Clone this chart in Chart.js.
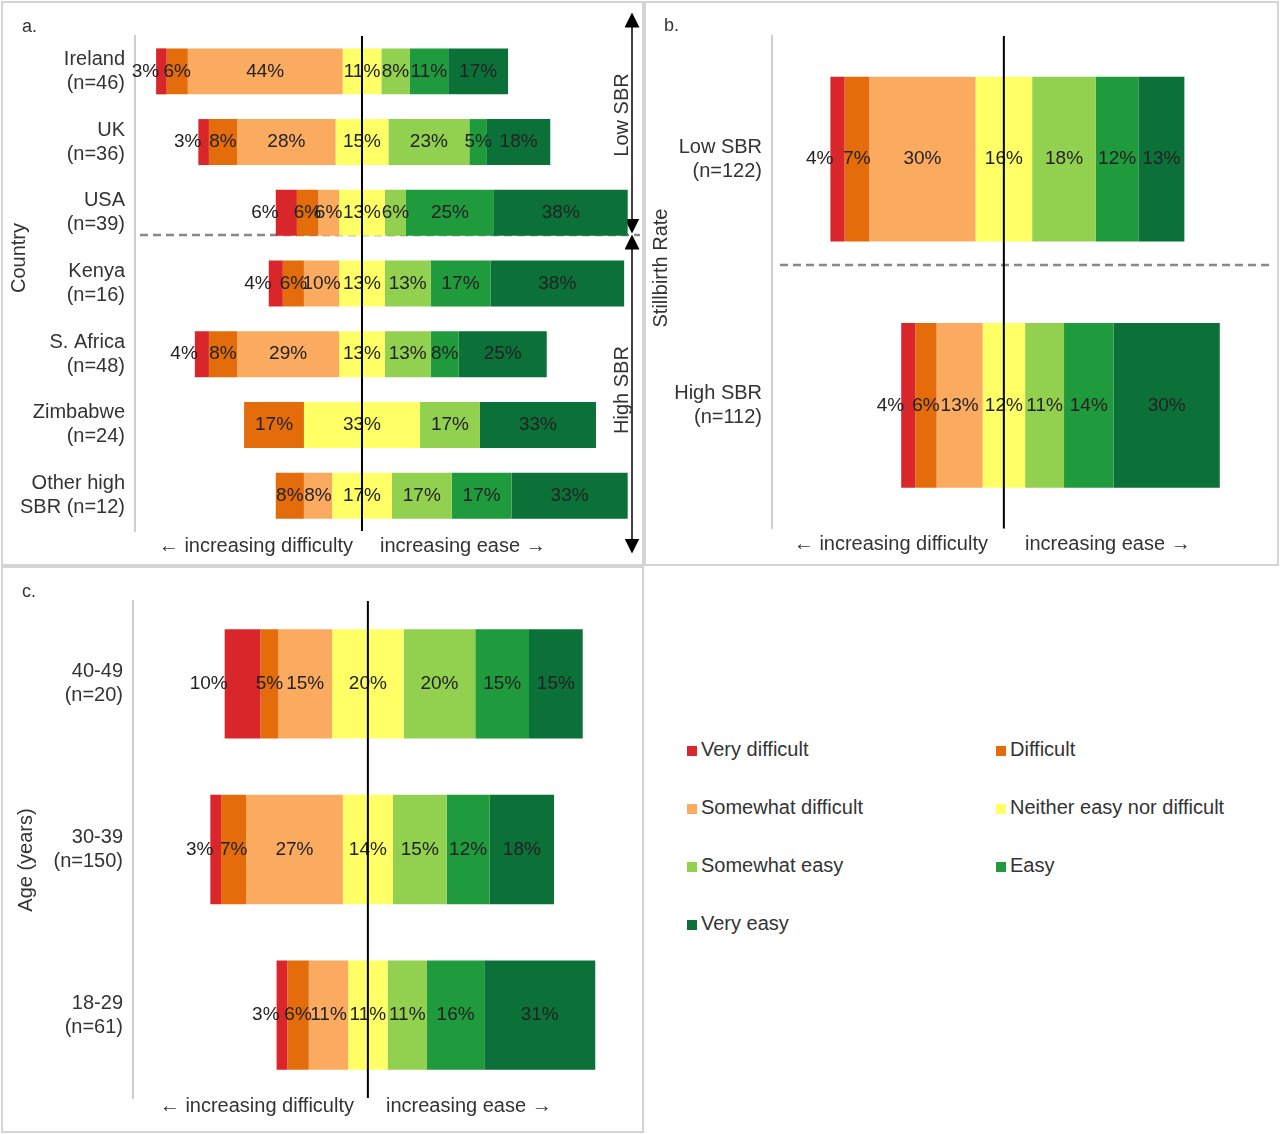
<!DOCTYPE html>
<html><head><meta charset="utf-8">
<script src="https://cdn.jsdelivr.net/npm/chart.js@4"></script>
<style>
body{margin:0;width:1280px;height:1134px;position:relative;background:#fff;font-family:"Liberation Sans",Arial,sans-serif;color:#333;overflow:hidden}
.cv{position:absolute}
.t{position:absolute;font-size:20px;white-space:nowrap;color:#333}
.r{position:absolute;font-size:20px;white-space:nowrap;transform:translate(-50%,-50%) rotate(-90deg);color:#333}
.sw{display:inline-block;width:10px;height:10px;margin-right:4px}
</style></head><body>
<svg width="1280" height="1134" style="position:absolute;left:0;top:0">
<defs><marker id="ah" markerWidth="10" markerHeight="10" refX="5" refY="5" orient="auto-start-reverse"><path d="M0,0 L10,5 L0,10 z" fill="#000"/></marker></defs>
<rect x="2" y="2" width="641" height="563" fill="none" stroke="#d4d4d4" stroke-width="2"/>
<rect x="645" y="2" width="633" height="563" fill="none" stroke="#d4d4d4" stroke-width="2"/>
<rect x="2" y="567" width="641" height="565" fill="none" stroke="#d4d4d4" stroke-width="2"/>
<line x1="140" y1="235" x2="640" y2="235" stroke="#888" stroke-width="2.5" stroke-dasharray="8,5"/>
<line x1="780" y1="265" x2="1272" y2="265" stroke="#888" stroke-width="2.5" stroke-dasharray="8,5"/>
<line x1="632" y1="20" x2="632" y2="226" stroke="#000" stroke-width="1.5" marker-start="url(#ah)" marker-end="url(#ah)"/>
<line x1="632" y1="242" x2="632" y2="546" stroke="#000" stroke-width="1.5" marker-start="url(#ah)" marker-end="url(#ah)"/>
</svg>
<canvas id="ca" class="cv" style="left:2px;top:2px;width:641px;height:563px"></canvas>
<canvas id="cb" class="cv" style="left:645px;top:2px;width:633px;height:563px"></canvas>
<canvas id="cc" class="cv" style="left:2px;top:567px;width:641px;height:565px"></canvas>
<div class="t" style="left:22px;top:16px;font-size:18px">a.</div>
<div class="t" style="left:664px;top:15px;font-size:18px">b.</div>
<div class="t" style="left:22px;top:581px;font-size:18px">c.</div>
<div class="r" style="left:18px;top:258px">Country</div>
<div class="r" style="left:25px;top:860px">Age (years)</div>
<div class="r" style="left:621px;top:115px">Low SBR</div>
<div class="r" style="left:621px;top:390px">High SBR</div>
<div class="r" style="left:660px;top:268px">Stillbirth Rate</div>
<div class="t" style="right:927px;top:534px">← increasing difficulty</div>
<div class="t" style="left:380px;top:534px">increasing ease →</div>
<div class="t" style="right:292px;top:532px">← increasing difficulty</div>
<div class="t" style="left:1025px;top:532px">increasing ease →</div>
<div class="t" style="right:926px;top:1094px">← increasing difficulty</div>
<div class="t" style="left:386px;top:1094px">increasing ease →</div>
<div id="leg"></div>
<script>
const levels=['Very difficult','Difficult','Somewhat difficult','Neither easy nor difficult','Somewhat easy','Easy','Very easy'];
const colors=['#d9262b','#e46c0a','#fbab60','#ffff66','#92d050','#1f9a3c','#0b7139'];
// panel a
const countryLabels=[['Ireland','(n=46)'],['UK','(n=36)'],['USA','(n=39)'],['Kenya','(n=16)'],['S. Africa','(n=48)'],['Zimbabwe','(n=24)'],['Other high','SBR (n=12)']];
const ireland=[3,6,44,11,8,11,17];
const uk=[3,8,28,15,23,5,18];
const usa=[6,6,6,13,6,25,38];
const kenya=[4,6,10,13,13,17,38];
const safrica=[4,8,29,13,13,8,25];
const zimbabwe=[0,17,0,33,17,0,33];
const otherHigh=[0,8,8,17,17,17,33];
// panel b
const sbrLabels=[['Low SBR','(n=122)'],['High SBR','(n=112)']];
const lowSBR=[4,7,30,16,18,12,13];
const highSBR=[4,6,13,12,11,14,30];
// panel c
const ageLabels=[['40-49','(n=20)'],['30-39','(n=150)'],['18-29','(n=61)']];
const age4049=[10,5,15,20,20,15,15];
const age3039=[3,7,27,14,15,12,18];
const age1829=[3,6,11,11,11,16,31];

function build(rows){
  return levels.map((lv,k)=>({label:lv,backgroundColor:colors[k],grouped:false,
    data:rows.map(r=>{let s=-(r[0]+r[1]+r[2]+r[3]/2);for(let j=0;j<k;j++)s+=r[j];return [s,s+r[k]];}),
    raw:rows.map(r=>r[k])}));
}
const lab={id:'lab',afterDatasetsDraw(c){
  const ctx=c.ctx;ctx.save();ctx.font='19px "Liberation Sans", Arial';ctx.fillStyle='#222';ctx.textBaseline='middle';
  c.data.datasets.forEach((ds,k)=>{c.getDatasetMeta(k).data.forEach((el,i)=>{
    const v=ds.raw[i];if(!v)return;
    const a=Math.min(el.x,el.base),b=Math.max(el.x,el.base);
    if(k===0){ctx.textAlign='right';ctx.fillText(v+'%',a+3,el.y);}
    else{ctx.textAlign='center';ctx.fillText(v+'%',(a+b)/2,el.y);}
  });});
  const x=c.scales.x.getPixelForValue(0);
  ctx.strokeStyle='#000';ctx.lineWidth=2;ctx.beginPath();ctx.moveTo(x,c.chartArea.top);ctx.lineTo(x,c.chartArea.bottom);ctx.stroke();
  ctx.restore();
}};
function mk(id,labels,rows,yw,pad,xmin,xmax,bp){
  new Chart(document.getElementById(id),{type:'bar',
    data:{labels,datasets:build(rows)},
    options:{indexAxis:'y',responsive:false,animation:false,devicePixelRatio:1,
      layout:{padding:pad},
      datasets:{bar:{barPercentage:bp,categoryPercentage:1}},
      plugins:{legend:{display:false},tooltip:{enabled:false}},
      scales:{x:{display:false,min:xmin,max:xmax},
        y:{afterFit(s){s.width=yw;},grid:{display:false,drawTicks:false},border:{display:true,color:'#cfcfcf',width:2},
          ticks:{color:'#333',padding:10,font:{size:20,family:'"Liberation Sans", Arial'}}}}},
    plugins:[lab]});
}
function size(id,w,h){const e=document.getElementById(id);e.width=w;e.height=h;}
size('ca',641,563);size('cb',633,563);size('cc',641,565);
mk('ca',countryLabels,[ireland,uk,usa,kenya,safrica,zimbabwe,otherHigh],133,{top:13,bottom:34,right:3,left:0},-64.5,79,0.65);
mk('cb',sbrLabels,[lowSBR,highSBR],127,{top:8.5,bottom:36.5,right:3,left:0},-65.5,76.6,0.67);
mk('cc',ageLabels,[age4049,age3039,age1829],131,{top:6,bottom:26.5,right:3,left:0},-65.6,76,0.66);
const leg=document.getElementById('leg');
levels.forEach((lv,k)=>{const d=document.createElement('div');d.className='t';
  d.style.left=(k%2?996:687)+'px';d.style.top=(738+Math.floor(k/2)*58)+'px';
  d.innerHTML='<span class="sw" style="background:'+colors[k]+'"></span>'+lv;leg.appendChild(d);});
</script></body></html>
